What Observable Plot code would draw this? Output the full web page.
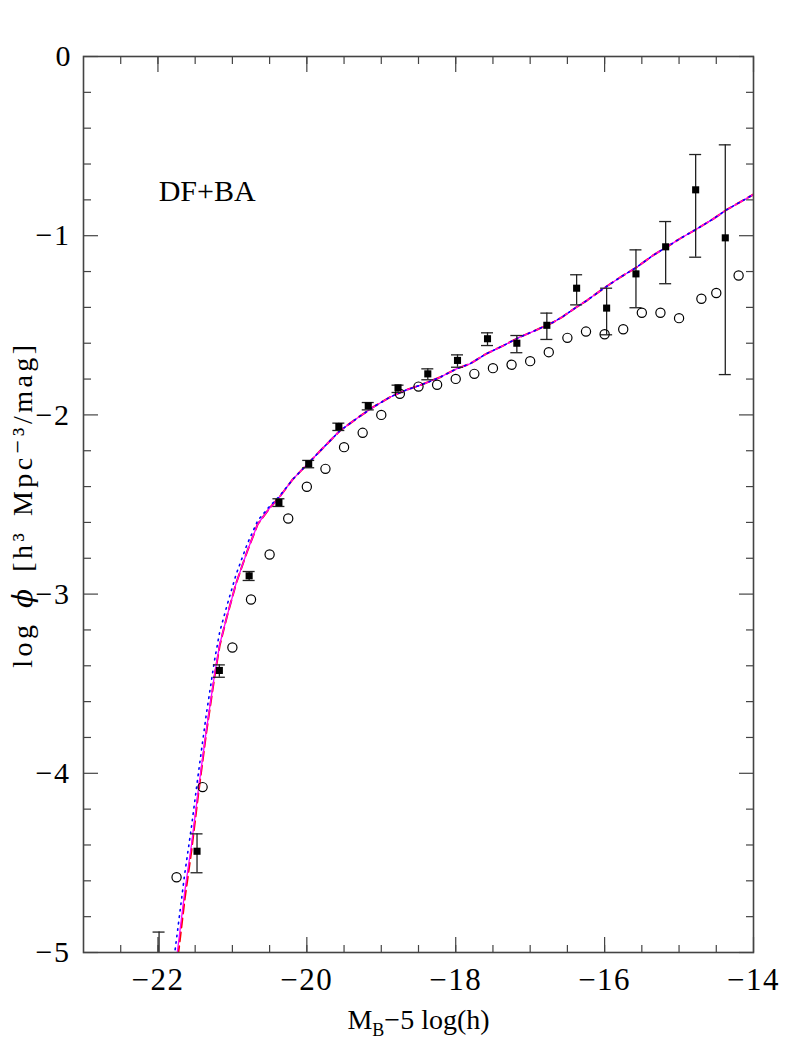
<!DOCTYPE html>
<html>
<head>
<meta charset="utf-8">
<script src="https://cdn.jsdelivr.net/npm/d3@7"></script>
<script src="https://cdn.jsdelivr.net/npm/@observablehq/plot@0.6"></script>
<style>
  html, body { margin: 0; padding: 0; background: white; }
  #chart svg { display: block; }
</style>
</head>
<body>
<div id="chart"></div>
<script>
// ---- data ----
// filled squares with error bars
const sqM     = [-21.985, -21.475, -21.175, -20.775, -20.375, -19.975, -19.57, -19.175, -18.775, -18.375, -17.976, -17.573, -17.179, -16.776, -16.376, -15.973, -15.579, -15.18, -14.777, -14.379];
const sqPhi   = [-5.20, -4.435, -3.426, -2.898, -2.489, -2.273, -2.065, -1.949, -1.849, -1.771, -1.696, -1.575, -1.600, -1.500, -1.293, -1.404, -1.213, -1.062, -0.744, -1.012];
const sqLo    = [-5.50, -4.555, -3.464, -2.924, -2.511, -2.295, -2.087, -1.972, -1.875, -1.804, -1.734, -1.613, -1.653, -1.579, -1.386, -1.553, -1.402, -1.268, -1.120, -1.775];
const sqHi    = [-4.886, -4.338, -3.395, -2.874, -2.468, -2.254, -2.046, -1.931, -1.834, -1.743, -1.665, -1.542, -1.557, -1.432, -1.218, -1.293, -1.079, -0.921, -0.547, -0.493];

// open circles
const ciM   = [-21.75, -21.40, -21.00, -20.75, -20.50, -20.25, -20.00, -19.75, -19.50, -19.25, -19.00, -18.75, -18.50, -18.25, -18.00, -17.75, -17.50, -17.25, -17.00, -16.75, -16.50, -16.25, -16.00, -15.75, -15.50, -15.25, -15.00, -14.70, -14.50, -14.20];
const ciPhi = [-4.58, -4.077, -3.298, -3.030, -2.779, -2.578, -2.401, -2.301, -2.180, -2.100, -2.000, -1.882, -1.842, -1.832, -1.799, -1.771, -1.739, -1.720, -1.700, -1.650, -1.570, -1.535, -1.550, -1.522, -1.430, -1.430, -1.460, -1.352, -1.320, -1.222];

// model curves
const curveM     = [-21.78, -21.74, -21.64, -21.55, -21.46, -21.35, -21.24, -21.17, -21.07, -20.95, -20.80, -20.66, -20.50, -20.37, -20.19, -19.97, -19.76, -19.56, -19.33, -19.11, -18.88, -18.66, -18.48, -18.21, -17.99, -17.81, -17.59, -17.36, -17.14, -16.91, -16.69, -16.56, -16.38, -16.24, -16.02, -15.79, -15.57, -15.35, -15.17, -14.99, -14.76, -14.54, -14.36, -14.00];
const magentaPhi = [-5.12, -5.00, -4.66, -4.40, -4.10, -3.76, -3.45, -3.28, -3.12, -2.94, -2.76, -2.61, -2.52, -2.46, -2.36, -2.265, -2.175, -2.09, -2.02, -1.957, -1.90, -1.86, -1.835, -1.79, -1.743, -1.715, -1.659, -1.613, -1.566, -1.525, -1.483, -1.451, -1.399, -1.362, -1.296, -1.232, -1.176, -1.110, -1.064, -1.017, -0.962, -0.906, -0.855, -0.770];
const redPhi     = [-5.17, -5.05, -4.70, -4.43, -4.12, -3.77, -3.46, -3.285, -3.12, -2.94, -2.76, -2.61, -2.52, -2.46, -2.36, -2.265, -2.175, -2.09, -2.02, -1.957, -1.90, -1.86, -1.835, -1.79, -1.743, -1.715, -1.659, -1.613, -1.566, -1.525, -1.483, -1.451, -1.399, -1.362, -1.296, -1.232, -1.176, -1.110, -1.064, -1.017, -0.962, -0.906, -0.855, -0.770];
const bluePhi    = [-5.02, -4.89, -4.56, -4.30, -4.01, -3.67, -3.37, -3.21, -3.06, -2.89, -2.72, -2.59, -2.51, -2.455, -2.36, -2.265, -2.175, -2.09, -2.02, -1.957, -1.90, -1.86, -1.835, -1.79, -1.743, -1.715, -1.659, -1.613, -1.566, -1.525, -1.483, -1.451, -1.399, -1.362, -1.296, -1.232, -1.176, -1.110, -1.064, -1.017, -0.962, -0.906, -0.855, -0.770];

// ticks and texts
const xMajorTicks = [-22, -20, -18, -16, -14];
const xMinorTicks = [-22.5, -22, -21.5, -21, -20.5, -20, -19.5, -19, -18.5, -18, -17.5, -17, -16.5, -16, -15.5, -15, -14.5];
const yMajorTicks = [0, -1, -2, -3, -4, -5];
const yMinorTicks = [-0.2, -0.4, -0.6, -0.8, -1.2, -1.4, -1.6, -1.8, -2.2, -2.4, -2.6, -2.8, -3.2, -3.4, -3.6, -3.8, -4.2, -4.4, -4.6, -4.8];
const panelLabel = "DF+BA";
const panelLabelPos = {x: -21.99, y: -0.755};
const xLabel = "MB−5 log(h)";
const yLabel = "log ϕ [h³ Mpc⁻³/mag]";

// ---- build tables ----
const squares = sqM.map((m, i) => ({m, phi: sqPhi[i], lo: sqLo[i], hi: sqHi[i]}));
const circles = ciM.map((m, i) => ({m, phi: ciPhi[i]}));
const magenta = curveM.map((m, i) => ({m, phi: magentaPhi[i]}));
const red = curveM.map((m, i) => ({m, phi: redPhi[i]}));
const blue = curveM.map((m, i) => ({m, phi: bluePhi[i]}));

const axisColor = "#444";
const font = "'Liberation Serif', 'DejaVu Serif', serif";
const intFmt = d => d === 0 ? "0" : (d < 0 ? "−" : "") + Math.abs(d);

const chart = Plot.plot({
  width: 795,
  height: 1059,
  marginLeft: 83,
  marginRight: 42,
  marginTop: 56,
  marginBottom: 107,
  x: {domain: [-23, -14]},
  y: {domain: [-5, 0]},
  style: {fontFamily: font, background: "white", color: "black"},
  marks: [
    // inward tick marks
    Plot.axisX({anchor: "bottom", ticks: xMinorTicks, tickSize: -7, tickFormat: () => "", stroke: axisColor, strokeWidth: 1.2, label: null}),
    Plot.axisX({anchor: "top", ticks: xMinorTicks, tickSize: -7, tickFormat: () => "", stroke: axisColor, strokeWidth: 1.2, label: null}),
    Plot.axisX({anchor: "bottom", ticks: xMajorTicks, tickSize: -15, tickFormat: () => "", stroke: axisColor, strokeWidth: 1.2, label: null}),
    Plot.axisX({anchor: "top", ticks: xMajorTicks, tickSize: -15, tickFormat: () => "", stroke: axisColor, strokeWidth: 1.2, label: null}),
    Plot.axisY({anchor: "left", ticks: yMinorTicks, tickSize: -8, tickFormat: () => "", stroke: axisColor, strokeWidth: 1.2, label: null}),
    Plot.axisY({anchor: "right", ticks: yMinorTicks, tickSize: -8, tickFormat: () => "", stroke: axisColor, strokeWidth: 1.2, label: null}),
    Plot.axisY({anchor: "left", ticks: yMajorTicks, tickSize: -15, tickFormat: () => "", stroke: axisColor, strokeWidth: 1.2, label: null}),
    Plot.axisY({anchor: "right", ticks: yMajorTicks, tickSize: -15, tickFormat: () => "", stroke: axisColor, strokeWidth: 1.2, label: null}),
    // tick labels
    Plot.axisX({anchor: "bottom", ticks: xMajorTicks, tickSize: 0, tickPadding: 15, fontSize: 31, tickFormat: intFmt, label: null, fill: "black"}),
    Plot.axisY({anchor: "left", ticks: yMajorTicks, tickSize: 0, tickPadding: 13, fontSize: 30, tickFormat: intFmt, label: null, fill: "black"}),
    // model curves
    Plot.line(red, {x: "m", y: "phi", stroke: "#ff0000", strokeWidth: 2, strokeDasharray: "9,5", clip: true}),
    Plot.line(magenta, {x: "m", y: "phi", stroke: "#ff00ff", strokeWidth: 1.3, clip: true}),
    Plot.line(blue, {x: "m", y: "phi", stroke: "#0000ff", strokeWidth: 1.6, strokeDasharray: "1.5,5", clip: true}),
    // error bars
    Plot.ruleX(squares, {x: "m", y1: "lo", y2: "hi", stroke: "#222", strokeWidth: 1.3, clip: true}),
    Plot.ruleY(squares, {y: "lo", x1: "m", x2: "m", insetLeft: -6, insetRight: -6, stroke: "#222", strokeWidth: 1.3, clip: true}),
    Plot.ruleY(squares, {y: "hi", x1: "m", x2: "m", insetLeft: -6, insetRight: -6, stroke: "#222", strokeWidth: 1.3, clip: true}),
    // points
    Plot.dot(circles, {x: "m", y: "phi", r: 4.6, stroke: "black", strokeWidth: 1.2, fill: "none"}),
    Plot.dot(squares, {x: "m", y: "phi", r: 4, symbol: "square", fill: "black", stroke: "none", clip: true}),
    // panel label
    Plot.text([panelLabel], {x: () => panelLabelPos.x, y: () => panelLabelPos.y, text: d => d, textAnchor: "start", lineAnchor: "middle", fontSize: 30, fill: "black"}),
    // axis titles
    Plot.text([xLabel], {frameAnchor: "bottom", text: d => d, dy: 68, fontSize: 28, textAnchor: "middle", lineAnchor: "middle", fill: "black"}),
    Plot.text([yLabel], {frameAnchor: "left", text: d => d, dx: -60, rotate: -90, fontSize: 28, textAnchor: "middle", lineAnchor: "middle", fill: "black"}),
    // frame
    Plot.frame({stroke: axisColor, strokeWidth: 1.6})
  ]
});

// subscript B in the x label, italic phi in the y label, wider tick label minus
const ns = "http://www.w3.org/2000/svg";
function span(text, attrs = {}) {
  const s = document.createElementNS(ns, "tspan");
  s.textContent = text;
  for (const k in attrs) s.setAttribute(k, attrs[k]);
  return s;
}
chart.querySelectorAll("text").forEach(t => {
  const s = t.textContent;
  if (s === xLabel) {
    t.textContent = "";
    t.append(span("M"), span("B", {"font-size": 18, dy: 7}), span("−5 log(h)", {dy: -7}));
  } else if (s === yLabel) {
    t.textContent = "";
    t.style.letterSpacing = "3.5px";
    t.style.wordSpacing = "3px";
    t.append(span("log "), span("ϕ", {"font-style": "italic", "font-family": "'DejaVu Serif', serif"}), span(" [h³ Mpc⁻³/mag]"));
  } else if (/^−\d+$/.test(s)) {
    t.style.letterSpacing = "1.5px";
  }
});

document.getElementById("chart").append(chart);
</script>
</body>
</html>
